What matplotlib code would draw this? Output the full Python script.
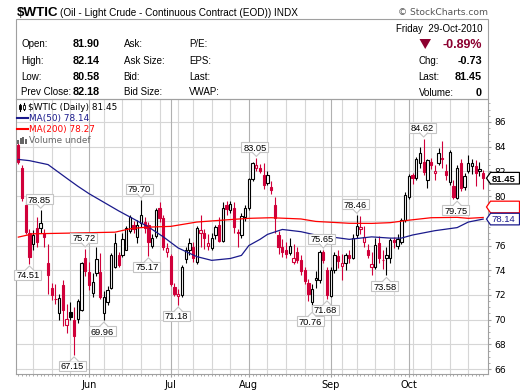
import matplotlib
matplotlib.use("Agg")
import matplotlib.pyplot as plt
from matplotlib.patches import Rectangle, Polygon
from matplotlib.lines import Line2D
from matplotlib.transforms import IdentityTransform, Affine2D
from matplotlib.ticker import MultipleLocator
import numpy as np
import pandas as pd

# ---------------- data ----------------
start_date = '2010-05-04'
end_date = '2010-10-29'
holidays = ['2010-05-31', '2010-07-05', '2010-09-06']
prev_close_first = 86.15

opens = [84.15, 82.25, 79.30, 77.00, 76.10, 77.40, 77.40, 77.00, 74.55, 72.55,
         71.70, 70.55, 72.80, 69.56, 70.64, 69.97, 70.05, 70.78, 75.00, 73.85,
         72.15, 73.80, 73.85, 70.50, 71.40, 72.60, 74.25, 75.20, 75.25, 75.65,
         77.15, 77.70, 76.70, 77.80, 77.90, 77.66, 75.96, 76.74, 79.00, 78.20,
         75.50, 75.15, 72.66, 71.90, 72.00, 74.88, 75.63, 75.90, 74.70, 76.98,
         77.00, 76.00, 75.77, 76.85, 77.66, 76.40, 79.28, 78.90, 79.00, 77.12,
         76.85, 78.33, 79.00, 81.40, 82.30, 82.30, 81.70, 81.03, 80.76, 79.28,
         76.85, 75.90, 75.60, 75.36, 74.70, 75.50, 74.80, 74.00, 73.00, 71.45,
         73.20, 73.20, 75.50, 74.00, 71.90, 74.00, 75.15, 74.35, 74.55, 75.20,
         75.00, 76.85, 77.30, 76.30, 75.60, 74.30, 74.30, 76.20, 74.85, 74.96,
         74.96, 76.45, 76.00, 76.30, 78.05, 79.90, 81.70, 81.45, 82.65, 82.80,
         81.30, 82.80, 81.84, 82.65, 83.10, 82.06, 81.17, 80.80, 79.85, 82.70,
         80.76, 82.06, 82.44, 82.44, 82.06, 81.90]
highs = [84.45, 82.50, 79.60, 77.30, 77.25, 78.30, 78.85, 77.30, 76.15, 73.00,
         72.90, 72.10, 73.20, 71.30, 71.40, 71.05, 71.70, 74.65, 75.72, 74.70,
         73.75, 75.90, 75.40, 72.30, 72.70, 75.40, 77.00, 75.50, 77.00, 77.60,
         78.50, 78.00, 78.10, 79.70, 78.30, 77.90, 76.90, 79.00, 79.50, 78.50,
         76.20, 75.30, 73.00, 72.50, 74.40, 75.90, 76.60, 76.30, 77.60, 78.47,
         77.30, 76.90, 77.00, 77.70, 78.30, 79.50, 79.60, 79.60, 79.50, 77.30,
         78.60, 79.30, 81.50, 82.80, 83.05, 82.60, 82.70, 82.00, 81.20, 79.90,
         77.20, 76.50, 76.30, 76.60, 76.10, 75.90, 75.20, 74.30, 73.30, 72.90,
         73.90, 75.60, 75.65, 74.30, 74.30, 75.50, 75.60, 75.30, 75.40, 75.60,
         76.90, 78.46, 78.40, 77.60, 76.10, 75.50, 76.60, 76.80, 75.60, 75.90,
         76.60, 76.70, 76.90, 78.20, 80.30, 81.80, 81.90, 83.20, 84.00, 84.62,
         83.00, 83.10, 82.50, 83.90, 84.50, 82.60, 83.75, 81.30, 82.50, 83.00,
         81.90, 83.30, 83.00, 82.90, 82.80, 82.14]
lows = [82.60, 79.60, 76.90, 74.51, 75.60, 75.90, 76.98, 75.90, 72.10, 71.60,
        71.30, 69.95, 69.50, 68.90, 69.95, 67.15, 69.70, 70.70, 73.50, 72.40,
        71.85, 73.50, 71.70, 69.96, 71.20, 72.50, 74.15, 74.30, 75.10, 75.60,
        77.00, 77.00, 76.20, 77.50, 77.00, 75.17, 75.80, 76.60, 77.90, 75.60,
        75.10, 72.70, 71.90, 71.18, 71.80, 74.60, 75.20, 74.70, 74.50, 75.90,
        75.70, 75.60, 75.60, 76.50, 76.30, 76.30, 78.50, 78.60, 77.00, 75.90,
        76.60, 78.00, 78.90, 81.20, 82.00, 81.90, 80.60, 80.90, 80.20, 77.00,
        75.30, 75.10, 75.00, 75.20, 74.50, 74.60, 73.60, 72.90, 71.50, 70.76,
        72.60, 73.00, 74.60, 71.68, 71.80, 73.80, 74.20, 73.20, 74.00, 74.60,
        74.90, 76.60, 76.90, 75.90, 75.00, 73.60, 74.10, 74.60, 74.10, 73.58,
        74.60, 75.80, 75.70, 76.10, 77.90, 79.80, 81.00, 81.30, 82.30, 81.70,
        80.63, 82.20, 81.30, 82.50, 82.30, 81.30, 80.90, 79.80, 79.75, 80.40,
        80.50, 81.90, 81.80, 80.80, 81.60, 80.58]
closes = [82.80, 79.85, 77.10, 75.10, 76.85, 76.30, 77.80, 76.65, 73.60, 72.00,
          71.64, 71.75, 70.80, 70.05, 70.19, 68.67, 71.50, 74.60, 73.90, 72.80,
          73.07, 74.90, 71.80, 71.85, 72.40, 75.20, 76.20, 74.45, 76.55, 77.40,
          78.30, 77.35, 77.70, 78.45, 77.40, 76.30, 76.58, 78.87, 78.20, 75.90,
          75.77, 72.90, 72.10, 72.05, 74.30, 75.63, 76.23, 75.00, 77.39, 77.25,
          76.60, 76.20, 76.60, 77.50, 76.40, 79.00, 78.98, 79.35, 77.50, 76.98,
          78.35, 79.00, 81.40, 82.65, 82.50, 82.06, 80.90, 81.70, 80.50, 78.20,
          75.90, 75.45, 75.30, 76.00, 74.95, 74.85, 73.90, 73.10, 72.10, 72.50,
          73.35, 75.50, 74.83, 72.00, 74.00, 75.20, 74.75, 74.55, 75.20, 74.95,
          76.60, 77.60, 77.50, 76.70, 75.25, 74.50, 76.05, 75.00, 74.80, 75.25,
          76.45, 76.30, 76.50, 78.05, 80.05, 81.60, 81.50, 83.00, 83.45, 81.98,
          82.90, 82.50, 82.06, 83.45, 83.00, 81.70, 83.60, 79.90, 82.30, 80.65,
          81.60, 82.65, 82.70, 81.90, 82.18, 81.45]

ma50_idx = [0, 3, 8, 13, 16, 19, 23, 27, 31, 35, 39, 43, 48, 52, 57, 60, 62,
            65, 67, 71, 76, 80, 85, 89, 95, 100, 103, 106, 112, 118, 121, 125]
ma50_val = [82.97, 82.87, 82.55, 81.45, 80.80, 80.20, 79.50, 78.80, 78.15,
            77.50, 76.70, 75.80, 75.10, 74.80, 74.95, 75.20, 76.00, 76.50,
            76.90, 77.30, 77.12, 76.85, 76.66, 76.50, 76.70, 76.60, 76.60,
            76.85, 77.20, 77.45, 77.90, 78.14]
ma200_idx = [0, 4, 13, 26, 30, 33, 36, 41, 48, 57, 62, 68, 76, 80, 89, 95,
             100, 105, 111, 118, 121, 125]
ma200_val = [76.68, 76.95, 77.00, 77.08, 77.35, 77.45, 77.50, 77.55, 77.90,
             78.10, 78.20, 78.25, 78.15, 77.95, 77.80, 77.79, 77.85, 78.05,
             78.25, 78.28, 78.20, 78.27]

ann_idx = [6, 3, 18, 15, 23, 33, 35, 43, 64, 79, 83, 82, 91, 99, 109, 118]
ann_val = [78.85, 74.51, 75.72, 67.15, 69.96, 79.70, 75.17, 71.18, 83.05,
           70.76, 71.68, 75.65, 78.46, 73.58, 84.62, 79.75]
ann_kind = ['H', 'L', 'H', 'L', 'L', 'H', 'L', 'L', 'H', 'L', 'L', 'H', 'H',
            'L', 'H', 'L']

y_ticks = [66, 68, 70, 72, 74, 76, 78, 80, 82, 84, 86]

symbol = '$WTIC'
title_rest = '(Oil - Light Crude - Continuous Contract (EOD)) INDX'
left_labels = ['Open:', 'High:', 'Low:', 'Prev Close:']
left_values = ['81.90', '82.14', '80.58', '82.18']
mid_labels = ['Ask:', 'Ask Size:', 'Bid:', 'Bid Size:']
right_labels = ['P/E:', 'EPS:', 'Last:', 'VWAP:']
date_text = 'Friday  29-Oct-2010'
pct_text = '-0.89%'
stat_labels = ['Chg:', 'Last:', 'Volume:']
stat_values = ['-0.73', '81.45', '0']
legend_texts = ['$WTIC (Daily) 81.45', 'MA(50) 78.14', 'MA(200) 78.27', 'Volume undef']
last_price = 81.45
ma50_last = 78.14
ma200_last = 78.27

# ---------------- styling ----------------
W, H = 520, 391
RED = '#d0003a'
BLACK = '#000000'
NAVY = '#1a1a8c'
MARED = '#ff0000'
GRID = '#d6d6d6'
MGRID = '#b0b0b0'
FRAME = '#a0a0a0'
DARKRED = '#8c0030'
SANS = 'Liberation Sans'
VSANS = 'DejaVu Sans'

dates = pd.bdate_range(start_date, end_date)
dates = dates[~dates.isin(pd.to_datetime(holidays))]
n = len(closes)
idx = np.arange(n)

fig = plt.figure(figsize=(W / 100, H / 100), dpi=100)
fig.patch.set_facecolor('white')
ax = fig.add_axes([16 / W, (H - 374) / H, (488 - 16) / W, (374 - 99) / H])
ax.set_xlim(-0.62, n + 0.3)
ax.set_ylim(65.6, 87.86)

# grid lines
for yv in y_ticks:
    ax.axhline(yv, color=GRID, lw=0.8, zorder=0)
month_starts = [i for i in range(1, n) if dates[i].month != dates[i - 1].month]
week_starts = [i for i in range(1, n) if dates[i].isocalendar()[1] != dates[i - 1].isocalendar()[1]]
for i in week_starts:
    if i not in month_starts:
        ax.axvline(i, color=GRID, lw=0.8, zorder=0)
for i in month_starts:
    ax.axvline(i, color=MGRID, lw=0.8, zorder=0)

# candles
prevs = [prev_close_first] + closes[:-1]
bw = 0.62
for i in range(n):
    o, h, l, c = opens[i], highs[i], lows[i], closes[i]
    col = BLACK if c >= prevs[i] else RED
    filled = c < o
    ax.vlines(i, l, h, color=col, lw=0.8, zorder=3)
    lo, hi = min(o, c), max(o, c)
    ax.add_patch(Rectangle((i - bw / 2, lo), bw, max(hi - lo, 0.03),
                           facecolor=col if filled else 'white', edgecolor=col,
                           lw=0.8, zorder=4))

# moving averages
ax.plot(ma50_idx, ma50_val, color=NAVY, lw=0.9, zorder=5)
ax.plot(ma200_idx, ma200_val, color=MARED, lw=0.9, zorder=5)

# axes styling
for sp in ax.spines.values():
    sp.set_color(FRAME)
    sp.set_linewidth(0.8)
ax.yaxis.tick_right()
ax.set_yticks(y_ticks)
# the 78 label sits fully under the MA tag in the reference
ax.set_yticklabels(['' if v == 78 else str(v) for v in y_ticks], fontsize=6.6, family=VSANS)
ax.yaxis.set_minor_locator(MultipleLocator(0.5))
ax.tick_params(axis='y', which='major', length=2, color=FRAME, pad=2.5)
ax.tick_params(axis='y', which='minor', length=1.2, color=FRAME)
ax.set_xticks(month_starts)
ax.set_xticklabels([dates[i].strftime('%b') for i in month_starts], fontsize=7, family=VSANS)
ax.set_xticks(idx, minor=True)
ax.tick_params(axis='x', which='major', length=2, color=FRAME, pad=2.5)
ax.tick_params(axis='x', which='minor', length=1.2, color=FRAME)

ID = IdentityTransform()
TP = Affine2D().scale(1, -1).translate(0, H)  # top-origin pixel coords

# price annotations
for i, v, k in zip(ann_idx, ann_val, ann_kind):
    px, py = ax.transData.transform((i, v))
    s = 1 if k == 'H' else -1
    cy = py + s * 11
    cx = px - 1.5
    bwid, bhgt = 27, 10
    fig.add_artist(Rectangle((cx - bwid / 2, cy - bhgt / 2), bwid, bhgt, transform=ID,
                             fc='white', ec='#c4c4c4', lw=0.8, zorder=20))
    ey = cy - s * bhgt / 2
    tip = ey - s * 4
    fig.add_artist(Polygon([(px - 4, ey + s * 0.8), (px, tip), (px + 4, ey + s * 0.8)],
                           closed=True, transform=ID, fc='white', ec='none', zorder=21))
    fig.add_artist(Line2D([px - 4, px, px + 4], [ey, tip, ey], transform=ID,
                          color='#c4c4c4', lw=0.8, zorder=22))
    fig.text(cx, cy - 3.4, f'{v:.2f}', transform=ID, ha='center', va='baseline',
             fontsize=6.7, family=SANS, color='black', zorder=23)

# right-side value tags
def tag(price, text, ec, tc, bold, dy=0.0):
    _, py = ax.transData.transform((0, price))
    py = py + dy
    x0, x1, xt = 486.5, 519.5, 490.5
    hh = 5.8
    fig.add_artist(Polygon([(x0, py), (xt, py + hh), (x1, py + hh), (x1, py - hh), (xt, py - hh)],
                           closed=True, transform=ID, fc='white', ec=ec, lw=0.9, zorder=24))
    if text:
        fig.text(491.5, py - 3.4, text, transform=ID, ha='left', va='baseline',
                 fontsize=6.8, weight='bold' if bold else 'normal',
                 family=SANS, color=tc, zorder=25)

tag(ma200_last, '', MARED, MARED, False, dy=10.5)
tag(ma50_last, f'{ma50_last:.2f}', NAVY, NAVY, False)
tag(last_price, f'{last_price:.2f}', BLACK, BLACK, True)

# ---------------- header ----------------
fig.text(16.5, 15.5, symbol, transform=TP, fontsize=9.6, weight='bold', family=SANS, va='baseline')
fig.text(60, 15.5, title_rest, transform=TP, fontsize=7.2, family=SANS, va='baseline')
fig.text(488, 15, '\u00a9 StockCharts.com', transform=TP, fontsize=6.6, family=VSANS,
         color='#555555', ha='right', va='baseline')
fig.add_artist(Rectangle((16, 19), 472, 80, transform=TP, fc='none', ec=FRAME, lw=0.8, zorder=2))

row_base = [47.3, 64.3, 79.5, 94.8]
for lab, val, mid, rt, yb in zip(left_labels, left_values, mid_labels, right_labels, row_base):
    fig.text(21, yb, lab, transform=TP, fontsize=7, family=SANS, va='baseline')
    fig.text(72.5, yb, val, transform=TP, fontsize=7.8, family=SANS, weight='bold', va='baseline')
    fig.text(123.5, yb, mid, transform=TP, fontsize=7, family=SANS, va='baseline')
    fig.text(189, yb, rt, transform=TP, fontsize=7, family=SANS, va='baseline')

fig.text(482, 31.8, date_text, transform=TP, fontsize=7, family=SANS, ha='right', va='baseline')
fig.add_artist(Polygon([(419.5, 39), (431, 39), (425.2, 49)], closed=True, transform=TP,
                       fc=DARKRED, ec='none', zorder=5))
fig.text(482, 48.5, pct_text, transform=TP, fontsize=9, family=SANS, weight='bold',
         color=DARKRED, ha='right', va='baseline')
for lab, val, yb in zip(stat_labels, stat_values, [64.4, 79.5, 95.6]):
    fig.text(418.7, yb, lab, transform=TP, fontsize=7, family=SANS, va='baseline')
    fig.text(482, yb, val, transform=TP, fontsize=7.8, family=SANS, weight='bold',
             ha='right', va='baseline')

# ---------------- in-plot legend ----------------
leg_base = [110.3, 121.2, 132.4, 143.4]
leg_colors = [BLACK, NAVY, MARED, '#666666']
leg_x = [28.3, 29.3, 29.3, 29.3]
for t, c, yb, xx in zip(legend_texts, leg_colors, leg_base, leg_x):
    fig.text(xx, yb, t, transform=TP, fontsize=6.4, family=VSANS, color=c, va='baseline', zorder=30)
# icons
fig.add_artist(Line2D([20.2, 20.2], [103.5, 110.5], transform=TP, color='black', lw=0.8, zorder=30))
fig.add_artist(Rectangle((19.2, 105), 2, 4, transform=TP, fc='black', ec='black', lw=0.6, zorder=30))
fig.add_artist(Line2D([24.2, 24.2], [103, 110], transform=TP, color='black', lw=0.8, zorder=30))
fig.add_artist(Rectangle((23.2, 104.5), 2, 4.5, transform=TP, fc='white', ec='black', lw=0.6, zorder=31))
fig.add_artist(Line2D([17, 28], [117.7, 117.7], transform=TP, color=NAVY, lw=1.5, zorder=30))
fig.add_artist(Line2D([17, 28], [128.6, 128.6], transform=TP, color=MARED, lw=1.5, zorder=30))
for bx, bh in zip([17.3, 19.8, 22.3, 24.8], [4, 6.5, 7.5, 5.5]):
    fig.add_artist(Rectangle((bx, 144 - bh), 1.8, bh, transform=TP, fc='#666666', ec='none', zorder=30))

fig.savefig('out.png', dpi=100, facecolor='white')
